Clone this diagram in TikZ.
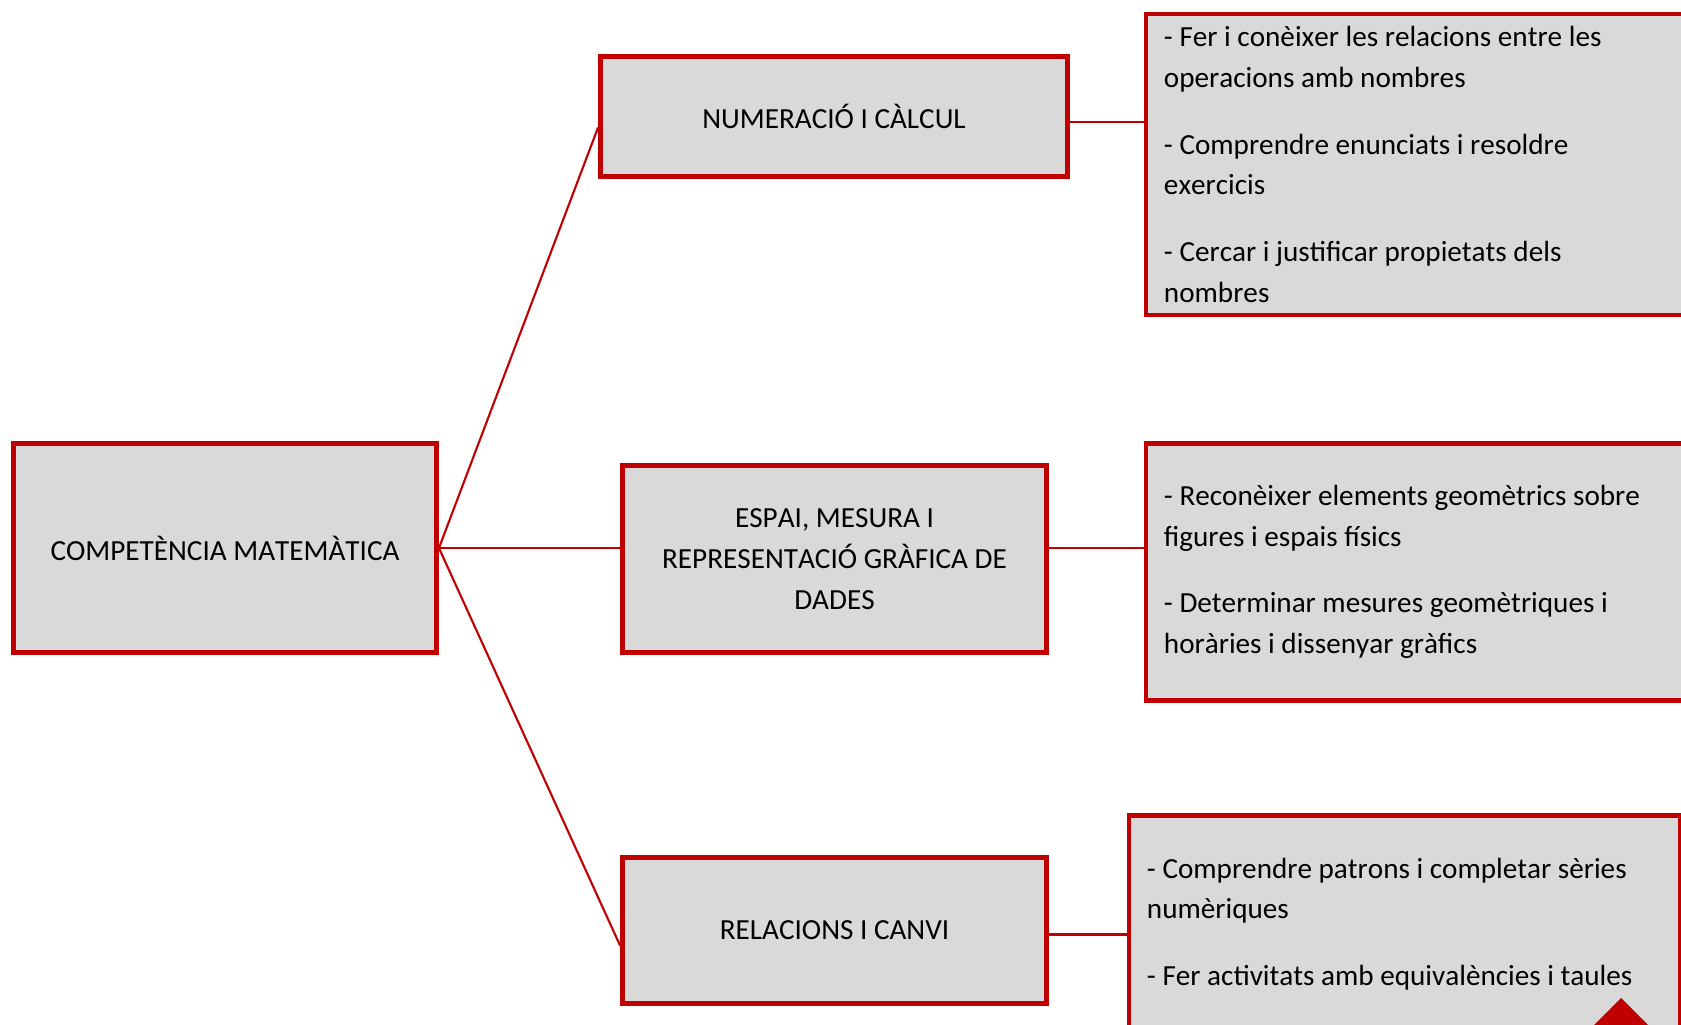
\documentclass[tikz,border=0pt]{standalone}
\usepackage{fontspec}
\setmainfont{Carlito}[Kerning=Off]
\usetikzlibrary{calc}
\definecolor{brick}{HTML}{C00000}
\definecolor{panel}{HTML}{D9D9D9}

\begin{document}
\begin{tikzpicture}[
  topic/.style={draw=brick, fill=panel, text=black, line width=1.4pt,
    align=center, font=\fontsize{8.3}{11.6}\selectfont},
  items/.style={topic, align=flush left, anchor=west, inner xsep=0.18cm},
  link/.style={draw=brick, line width=0.6pt},
]
\useasboundingbox (0,0) rectangle (16.81,-10.24);
\clip (0,0) rectangle (16.81,-10.24);

\node[topic, minimum width=4.23cm, minimum height=2.09cm] (comp)   at (2.25,-5.48)  {COMPETÈNCIA MATEMÀTICA};
\node[topic, minimum width=4.67cm, minimum height=1.20cm] (num)    at (8.34,-1.165) {NUMERACIÓ I CÀLCUL};
\node[topic, minimum width=4.24cm, minimum height=1.87cm] (space)  at (8.345,-5.59) {ESPAI, MESURA I\\REPRESENTACIÓ GRÀFICA DE\\DADES};
\node[topic, minimum width=4.24cm, minimum height=1.46cm] (change) at (8.345,-9.305) {RELACIONS I CANVI};

\node[items, text width=5.6cm, minimum height=3.01cm] (numitems) at (11.435,-1.645)
  {- Fer i conèixer les relacions entre les\\operacions amb nombres\\[7.3pt]
   - Comprendre enunciats i resoldre\\exercicis\\[7.3pt]
   - Cercar i justificar propietats dels\\nombres};
\node[items, text width=5.6cm, minimum height=2.57cm] (spaceitems) at (11.435,-5.72)
  {- Reconèixer elements geomètrics sobre\\figures i espais físics\\[7.3pt]
   - Determinar mesures geomètriques i\\horàries i dissenyar gràfics};
\node[items, text width=5.15cm, minimum height=2.17cm] (changeitems) at (11.265,-9.24)
  {- Comprendre patrons i completar sèries\\numèriques\\[7.3pt]
   - Fer activitats amb equivalències i taules};

\draw[link] (comp.east) -- ([yshift=-1.1mm]num.west);
\draw[link] (comp.east) -- (comp.east -| space.west);
\draw[link] (comp.east) -- ([yshift=-1.5mm]change.west);
\draw[link] ([yshift=-0.55mm]num.east) -- ([yshift=-0.55mm]num.east -| numitems.west);
\draw[link] (space.east |- comp.east) -- (spaceitems.west |- comp.east);
\draw[link] ([yshift=-0.4mm]change.east) -- ([yshift=-0.4mm]change.east -| changeitems.west);

% corner mark at the foot of the last box
\fill[brick] (16.21,-9.98) -- (15.89,-10.30) -- (16.53,-10.30) -- cycle;
\end{tikzpicture}
\end{document}
